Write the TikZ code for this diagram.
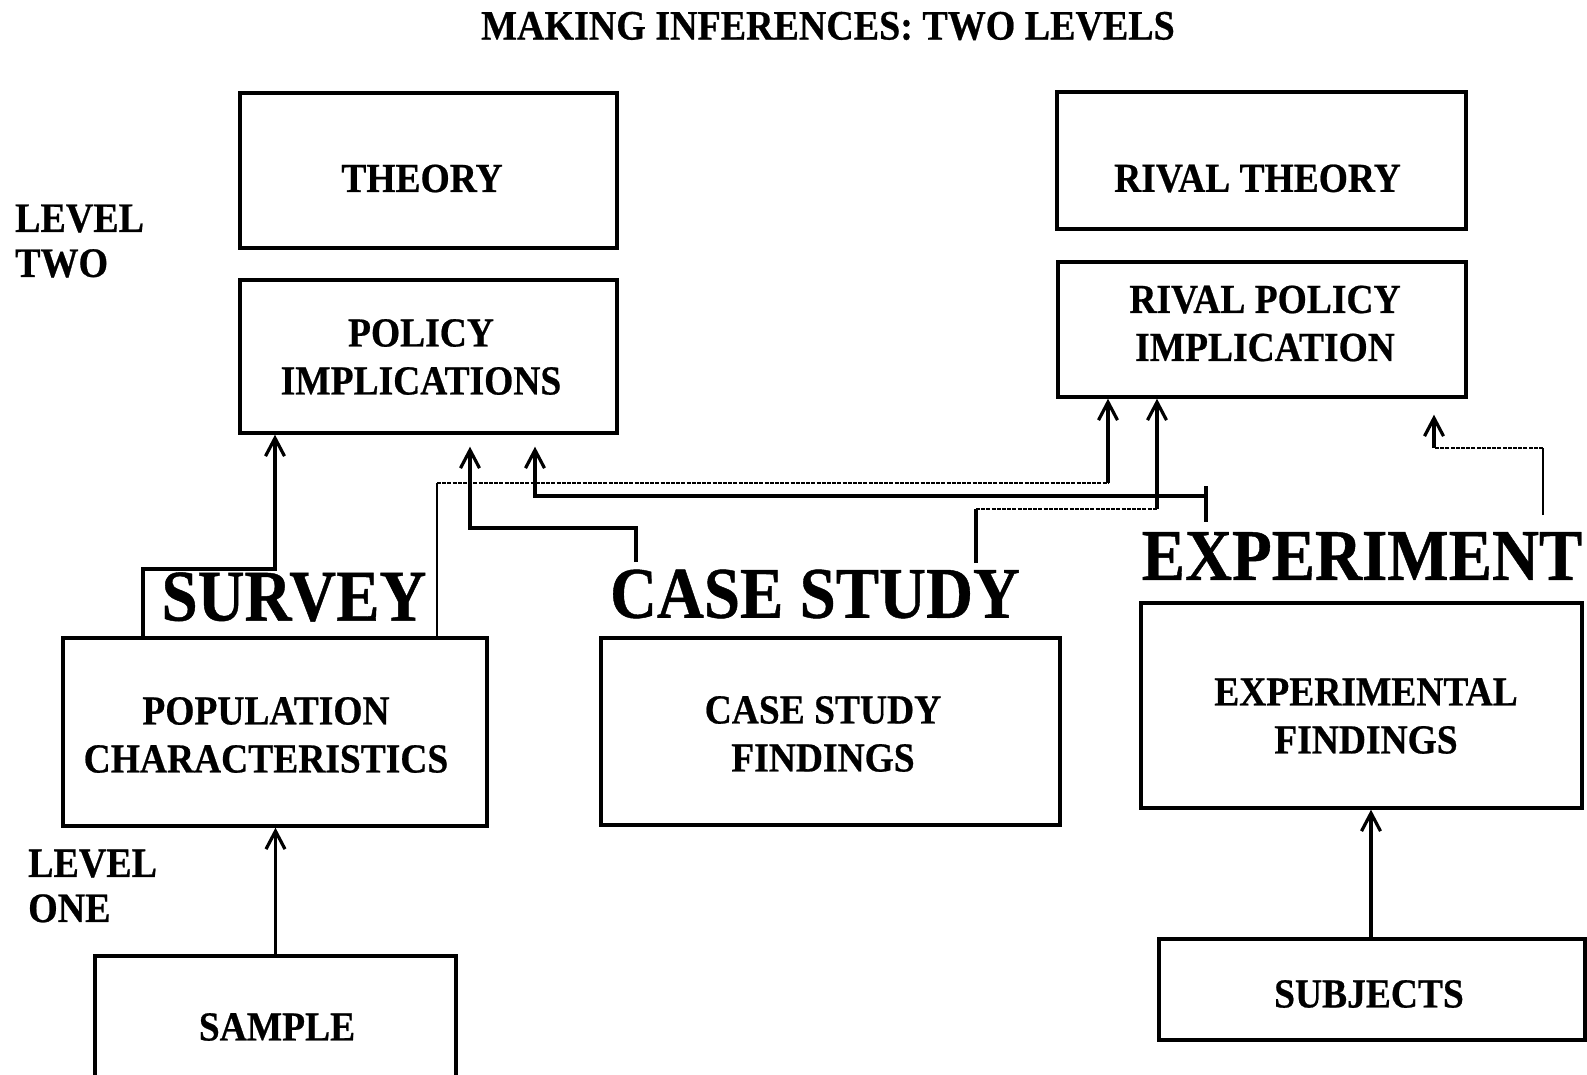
\documentclass[tikz,border=0pt]{standalone}
\usepackage{fontspec}
\setmainfont{Liberation Serif}[BoldFeatures={FakeBold=0.6}]
\usepackage{graphicx}
\usetikzlibrary{arrows.meta}
\newcommand{\ys}[1]{\scalebox{1}[1.1]{#1}}
\newcommand{\yb}[1]{\scalebox{1}[1.12]{#1}}
\tikzset{
  box/.style={draw, line width=3.4pt, inner sep=0pt},
  txt/.style={font=\fontsize{37.5}{48}\selectfont\bfseries, align=center, inner sep=0pt},
  lvl/.style={font=\fontsize{38}{45}\selectfont\bfseries, align=left, inner sep=0pt, anchor=west},
  big/.style={font=\fontsize{65}{78}\selectfont\bfseries, inner sep=0pt},
  conn/.style={line width=3.2pt},
  arr/.style={line width=3.2pt, -{Straight Barb[length=18pt,width=19pt]}},
  thinl/.style={line width=2.4pt},
  dotl/.style={line width=2.2pt, dash pattern=on 4pt off 1.2pt}
}
\begin{document}
\begin{tikzpicture}[x=1pt,y=-1pt]
\useasboundingbox (0,0) rectangle (1587,1074);
\clip (0,0) rectangle (1587,1074);
\fill[white] (0,0) rectangle (1587,1074);

% title
\node[font=\fontsize{38}{46}\selectfont\bfseries, inner sep=0pt] (title) at (828,26) {\ys{MAKING INFERENCES: TWO LEVELS}};

% level labels
\node[lvl] (lvltwo) at (15,241) {\ys{LEVEL}\\\ys{TWO}};
\node[lvl] (lvlone) at (28,886) {\ys{LEVEL}\\\ys{ONE}};

% boxes
\node[box, minimum width=377pt, minimum height=155pt] (theory) at (428.5,170.5) {};
\node[txt] (theoryT) at (422,178.5) {\ys{THEORY}};

\node[box, minimum width=377pt, minimum height=153pt] (policy) at (428.5,356.5) {};
\node[txt] (policyT) at (421,357) {\ys{POLICY}\\\ys{IMPLICATIONS}};

\node[box, minimum width=409pt, minimum height=137pt] (rtheory) at (1261.5,160.5) {};
\node[txt] (rtheoryT) at (1257.5,178.5) {\ys{RIVAL THEORY}};

\node[box, minimum width=408pt, minimum height=135pt] (rpolicy) at (1262,329.5) {};
\node[txt] (rpolicyT) at (1265,323.5) {\ys{RIVAL POLICY}\\\ys{IMPLICATION}};

\node[box, minimum width=424pt, minimum height=188pt] (popchar) at (275,732) {};
\node[txt] (popcharT) at (266,735) {\ys{POPULATION}\\\ys{CHARACTERISTICS}};

\node[box, minimum width=459pt, minimum height=187pt] (csf) at (830.5,731.5) {};
\node[txt] (csfT) at (823,734) {\ys{CASE STUDY}\\\ys{FINDINGS}};

\node[box, minimum width=441pt, minimum height=205pt] (expf) at (1361.5,705.5) {};
\node[txt] (expfT) at (1366,716) {\ys{EXPERIMENTAL}\\\ys{FINDINGS}};

\node[box, minimum width=426pt, minimum height=101pt] (subjects) at (1372,989.5) {};
\node[txt] (subjectsT) at (1369,994) {\ys{SUBJECTS}};

\node[box, minimum width=361pt, minimum height=144pt] (sample) at (275.5,1028) {};
\node[txt] (sampleT) at (277,1027) {\ys{SAMPLE}};

% big method labels
\node[big] (survey) at (294,597) {\yb{SURVEY}};
\node[big] (casestudy) at (815,594) {\yb{CASE STUDY}};
\node[big] (experiment) at (1362,556) {\yb{EXPERIMENT}};

% level one arrows
\draw[arr] (sample.north) -- (popchar.south -| sample.north);
\coordinate (subA) at (1371,939);
\draw[arr] (subjects.north -| subA) -- (expf.south -| subA);

% survey -> policy implications
\coordinate (svA) at (143,569);
\coordinate (svB) at (275,569);
\draw[arr] (popchar.north -| svA) -- (svA) -- (svB) -- (svB |- policy.south);

% survey -> rival policy implication
\coordinate (srA) at (437,483);
\coordinate (srB) at (1108,483);
\draw[thinl] (popchar.north -| srA) -- (srA);
\draw[dotl] (srA) -- (srB);
\draw[arr] (srB) -- (srB |- rpolicy.south);

% case study -> policy implications
\coordinate (csA) at (636,562);
\coordinate (csB) at (636,528);
\coordinate (csC) at (470,528);
\draw[arr, shorten >=12pt] (csA) -- (csB) -- (csC) -- (csC |- policy.south);

% experiment -> policy implications
\coordinate (exT1) at (1206,486);
\coordinate (exT2) at (1206,522);
\coordinate (exA) at (1206,496);
\coordinate (exB) at (535,496);
\draw[conn] (exT1) -- (exT2);
\draw[arr, shorten >=12pt] (exA) -- (exB) -- (exB |- policy.south);

% case study -> rival policy implication
\coordinate (crA) at (976,563);
\coordinate (crB) at (976,509);
\coordinate (crC) at (1157,509);
\draw[conn] (crA) -- (crB);
\draw[dotl] (crB) -- (crC);
\draw[arr] (crC) -- (crC |- rpolicy.south);

% experiment -> rival policy implication
\coordinate (erA) at (1543,515);
\coordinate (erB) at (1543,448);
\coordinate (erC) at (1434,448);
\draw[thinl] (erA) -- (erB);
\draw[dotl] (erB) -- (erC);
\draw[arr, shorten >=16pt] (erC) -- (erC |- rpolicy.south);
\end{tikzpicture}
\end{document}
